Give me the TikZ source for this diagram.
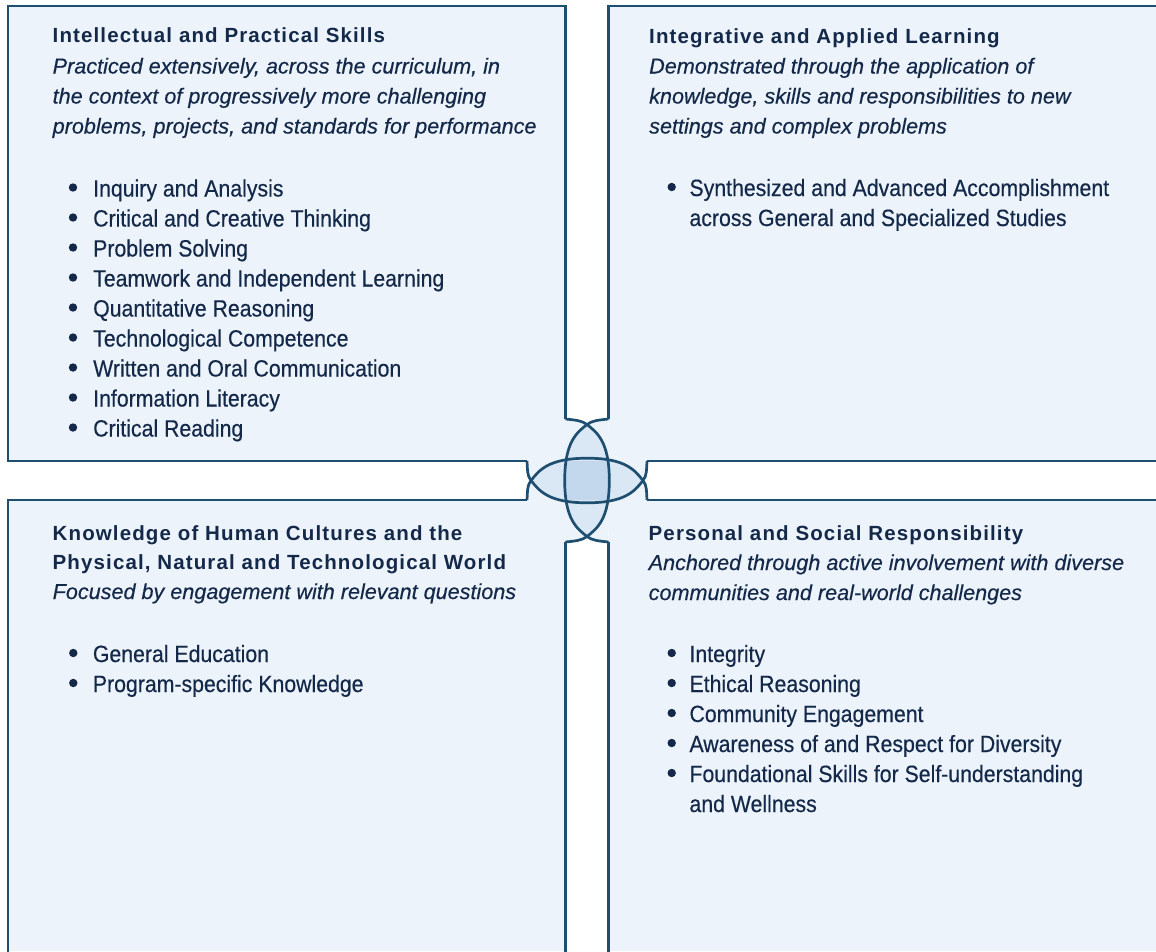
\documentclass[tikz,border=0pt]{standalone}
\usepackage{fontspec}
\setmainfont{Liberation Sans}
\newfontfamily\titlefont[LetterSpace=5.5]{Liberation Sans}
\newfontfamily\itfont[FakeBold=0.4]{Liberation Sans}
\newfontfamily\bodyfont[FakeStretch=0.905,FakeBold=0.4]{Liberation Sans}
\definecolor{panel}{HTML}{ECF3FA}
\definecolor{edge}{HTML}{1F4F70}
\definecolor{lens}{HTML}{DAE7F4}
\definecolor{core}{HTML}{C3D8EC}
\definecolor{ink}{HTML}{14294A}
\tikzset{
  ttl/.style={anchor=base west, inner sep=0pt, text=ink, font=\titlefont\bfseries\fontsize{20.5}{30}\selectfont},
  sub/.style={anchor=base west, inner sep=0pt, text=ink, font=\itfont\itshape\fontsize{21.6}{30}\selectfont},
  itm/.style={anchor=base west, inner sep=0pt, text=ink, font=\bodyfont\fontsize{23.5}{30}\selectfont},
  rim/.style={draw=edge, line width=2.7pt, line join=miter},
  dot/.style={fill=ink},
  vR/.style={insert path={(-21.5,-61.5) .. controls (-12,-60.5) and (-5,-60) .. (0,-56) .. controls (10,-48) and (22.3,-39) .. (22.3,0) .. controls (22.3,39) and (10,48) .. (0,56) .. controls (-5,60) and (-12,60.5) .. (-21.5,61.5)}},
  vL/.style={insert path={(21.5,-61.5) .. controls (12,-60.5) and (5,-60) .. (0,-56) .. controls (-10,-48) and (-22.3,-39) .. (-22.3,0) .. controls (-22.3,39) and (-10,48) .. (0,56) .. controls (5,60) and (12,60.5) .. (21.5,61.5)}},
  hB/.style={insert path={(-60,-19.5) .. controls (-59.5,-11) and (-60,-5) .. (-56,0) .. controls (-48,10) and (-39,22.3) .. (0,22.3) .. controls (39,22.3) and (48,10) .. (56,0) .. controls (60,-5) and (59.5,-11) .. (60,-19.5)}},
  hT/.style={insert path={(-60,19.5) .. controls (-59.5,11) and (-60,5) .. (-56,0) .. controls (-48,-10) and (-39,-22.3) .. (0,-22.3) .. controls (39,-22.3) and (48,-10) .. (56,0) .. controls (60,5) and (59.5,11) .. (60,19.5)}}
}
\begin{document}
\begin{tikzpicture}[x=1pt,y=-1pt]
\useasboundingbox (0,0) rectangle (1156,951);
\fill[white] (0,0) rectangle (1156,951);
\fill[panel] (8,6) rectangle (1156,951);
\begin{scope}[shift={(587,480.5)}]
  % white gaps between the panels, reaching into the flower
  \fill[white] (-21.5,-490) rectangle (21.5,-50);
  \fill[white] (-21.5,50) rectangle (21.5,480);
  \fill[white] (-590,-19.5) rectangle (-50,19.5);
  \fill[white] (50,-19.5) rectangle (580,19.5);
  % panel colour back on the side regions of the arcs
  \fill[panel][vR] -- cycle;
  \fill[panel][vL] -- cycle;
  \fill[panel][hB] -- cycle;
  \fill[panel][hT] -- cycle;
  % vertical lens
  \begin{scope}
    \clip[vR] -- cycle;
    \fill[lens][vL] -- cycle;
  \end{scope}
  % horizontal lens
  \begin{scope}
    \clip[hB] -- cycle;
    \fill[lens][hT] -- cycle;
  \end{scope}
  % central overlap
  \begin{scope}
    \clip[vR] -- cycle;
    \clip[vL] -- cycle;
    \clip[hB] -- cycle;
    \fill[core][hT] -- cycle;
  \end{scope}
  % the four arcs
  \draw[rim][vR];
  \draw[rim][vL];
  \draw[rim][hB];
  \draw[rim][hT];
\end{scope}
% panel borders
\draw[rim] (565.5,419) -- (565.5,6) -- (8,6) -- (8,461) -- (527,461);
\draw[rim] (608.5,419) -- (608.5,6) -- (1162,6);
\draw[rim] (1162,461) -- (647,461);
\draw[rim] (527,500) -- (8,500) -- (8,957);
\draw[rim] (565.5,542) -- (565.5,957);
\draw[rim] (608.5,542) -- (608.5,957);
\draw[rim] (647,500) -- (1162,500);

% ---- top left panel
\node[ttl] (tl-title) at (52.5,42.5) {Intellectual and Practical Skills};
\node[sub] (tl-s1) at (52.5,73.5) {Practiced extensively, across the curriculum, in};
\node[sub] (tl-s2) at (52.5,103.5) {the context of progressively more challenging};
\node[sub] (tl-s3) at (52.5,133.5) {problems, projects, and standards for performance};
\foreach \t [count=\i from 0] in {Inquiry and Analysis, Critical and Creative Thinking, Problem Solving, Teamwork and Independent Learning, Quantitative Reasoning, Technological Competence, Written and Oral Communication, Information Literacy, Critical Reading}{
  \node[itm] (tl-b\i) at (93,196.5+30*\i) {\t};
  \fill[dot] (73,187.5+30*\i) circle (4.2);
}
% ---- top right panel
\node[ttl] (tr-title) at (649,43) {Integrative and Applied Learning};
\node[sub] (tr-s1) at (649,73.5) {Demonstrated through the application of};
\node[sub] (tr-s2) at (649,103.5) {knowledge, skills and responsibilities to new};
\node[sub] (tr-s3) at (649,133.5) {settings and complex problems};
\node[itm] (tr-b0) at (689.3,196) {Synthesized and Advanced Accomplishment};
\node[itm] (tr-b0b) at (689.3,226) {across General and Specialized Studies};
\fill[dot] (671.7,187) circle (4.2);
% ---- bottom left panel
\node[ttl] (bl-t1) at (52.5,540) {Knowledge of Human Cultures and the};
\node[ttl] (bl-t2) at (52.5,569.5) {Physical, Natural and Technological World};
\node[sub] (bl-s1) at (52.5,599) {Focused by engagement with relevant questions};
\foreach \t [count=\i from 0] in {General Education, Program-specific Knowledge}{
  \node[itm] (bl-b\i) at (92.7,662+30*\i) {\t};
  \fill[dot] (73.3,653+30*\i) circle (4.2);
}
% ---- bottom right panel
\node[ttl] (br-title) at (648.5,540) {Personal and Social Responsibility};
\node[sub] (br-s1) at (648.5,570) {Anchored through active involvement with diverse};
\node[sub] (br-s2) at (648.5,600) {communities and real-world challenges};
\foreach \t [count=\i from 0] in {Integrity, Ethical Reasoning, Community Engagement, Awareness of and Respect for Diversity, Foundational Skills for Self-understanding}{
  \node[itm] (br-b\i) at (689.3,662+30*\i) {\t};
  \fill[dot] (671.7,653+30*\i) circle (4.2);
}
\node[itm] (br-b4b) at (689.3,812) {and Wellness};
\end{tikzpicture}
\end{document}
